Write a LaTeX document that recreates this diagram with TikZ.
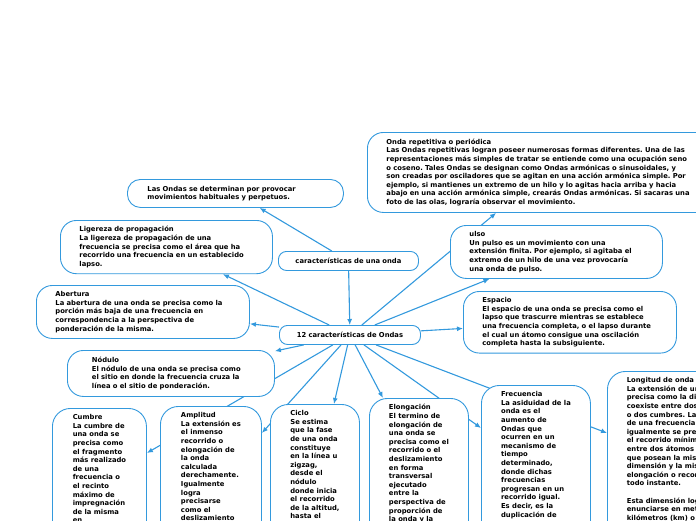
\documentclass[tikz,border=0pt]{standalone}
\usepackage{fontspec}
\setmainfont{DejaVu Sans}
\usetikzlibrary{arrows.meta, backgrounds}
\definecolor{mapblue}{RGB}{51,153,221}
\frenchspacing

\begin{document}
\begin{tikzpicture}[x=1pt, y=-1pt,
    card/.style={draw=mapblue, fill=white, line width=0.9pt, rounded corners=16pt,
        align=left, anchor=north west, inner xsep=19pt, inner ysep=6pt,
        font=\fontsize{6.8}{8.6}\selectfont\bfseries},
    pill/.style={card, align=center, inner xsep=5pt, inner ysep=3pt, rounded corners=8pt, minimum height=19pt},
    tallcard/.style={card, inner xsep=0pt, rounded corners=18pt, text depth=150pt},
    link/.style={draw=mapblue, line width=1.1pt, -{Latex[length=6pt, width=5pt]}}]
    \useasboundingbox (0,0) rectangle (696,520);
    \clip (0,0) rectangle (696,520);

    \node[pill, text width=130pt] (cara) at (278,251) {características de una onda};
    \node[pill, text width=131pt] (hub) at (279,325) {12 características de Ondas};

    \node[card, text width=316pt, minimum height=80pt] (onda) at (367,132) {Onda repetitiva o periódica\\
        Las Ondas repetitivas logran poseer numerosas formas diferentes. Una de las\\
        representaciones más simples de tratar se entiende como una ocupación seno\\
        o coseno. Tales Ondas se designan como Ondas armónicas o sinusoidales, y\\
        son creadas por osciladores que se agitan en una acción armónica simple. Por\\
        ejemplo, si mantienes un extremo de un hilo y lo agitas hacia arriba y hacia\\
        abajo en una acción armónica simple, crearás Ondas armónicas. Si sacaras una\\
        foto de las olas, lograría observar el movimiento.};
    \node[card, text width=176pt, inner xsep=20pt, rounded corners=13pt, minimum height=28pt] (ondas) at (127,179) {Las Ondas se determinan por provocar\\
        movimientos habituales y perpetuos.};
    \node[card, text width=174pt, minimum height=53pt] (lig) at (60,220) {Ligereza de propagación\\
        La ligereza de propagación de una\\
        frecuencia se precisa como el área que ha\\
        recorrido una frecuencia en un establecido\\
        lapso.};
    \node[card, text width=175pt, minimum height=53pt] (abert) at (36,285) {Abertura\\
        La abertura de una onda se precisa como la\\
        porción más baja de una frecuencia en\\
        correspondencia a la perspectiva de\\
        ponderación de la misma.};
    \node[card, text width=174pt, minimum height=53pt] (ulso) at (450,225) {ulso\\
        Un pulso es un movimiento con una\\
        extensión finita. Por ejemplo, si agitaba el\\
        extremo de un hilo de una vez provocaría\\
        una onda de pulso.};
    \node[card, text width=175pt, minimum height=61pt] (esp) at (463,291) {Espacio\\
        El espacio de una onda se precisa como el\\
        lapso que trascurre mientras se establece\\
        una frecuencia completa, o el lapso durante\\
        el cual un átomo consigue una oscilación\\
        completa hasta la subsiguiente.};
    \node[card, text width=158pt, inner xsep=24.5pt, minimum height=46pt] (nod) at (67,350) {Nódulo\\
        El nódulo de una onda se precisa como\\
        el sitio en donde la frecuencia cruza la\\
        línea o el sitio de ponderación.};

    \node[tallcard, minimum width=94pt] (cumbre) at (52,408) {Cumbre\\ La cumbre de\\ una onda se\\ precisa como\\
        el fragmento\\ más realizado\\ de una\\ frecuencia o\\ el recinto\\ máximo de\\ impregnación\\ de la misma\\ en};
    \node[tallcard, minimum width=101pt] (ampl) at (160,406) {Amplitud\\ La extensión es\\ el inmenso\\ recorrido o\\
        elongación de\\ la onda\\ calculada\\ derechamente.\\ Igualmente\\ logra\\ precisarse\\ como el\\ deslizamiento};
    \node[tallcard, minimum width=89pt] (ciclo) at (270,404) {Ciclo\\ Se estima\\ que la fase\\ de una onda\\ constituye\\
        en la línea u\\ zigzag,\\ desde el\\ nódulo\\ donde inicia\\ el recorrido\\ de la altitud,\\ hasta el};
    \node[tallcard, minimum width=99pt] (elong) at (369,398) {Elongación\\ El termino de\\ elongación de\\ una onda se\\
        precisa como el\\ recorrido o el\\ deslizamiento\\ en forma\\ transversal\\ ejecutado\\ entre la\\
        perspectiva de\\ proporción de\\ la onda y la};
    \node[tallcard, minimum width=109pt] (frec) at (481,385) {Frecuencia\\ La asiduidad de la\\ onda es el\\ aumento de\\
        Ondas que\\ ocurren en un\\ mecanismo de\\ tiempo\\ determinado,\\ donde dichas\\ frecuencias\\
        progresan en un\\ recorrido igual.\\ Es decir, es la\\ duplicación de};
    \node[tallcard, minimum width=136pt] (longi) at (607,371) {Longitud de onda\\ La extensión de una\\
        precisa como la distancia\\ coexiste entre dos\\ o dos cumbres. La\\ de una frecuencia\\
        igualmente se precisa\\ el recorrido mínimo\\ entre dos átomos\\ que posean la misma\\
        dimensión y la misma\\ elongación o recorrido\\ todo instante.\\[8.6pt] Esta dimensión logra\\
        enunciarse en metros\\ kilómetros (km) o};

    \begin{pgfonlayer}{background}
        \draw[link] (cara) -- (ondas);
        \draw[link] (cara) -- (hub);
        \draw[link] (hub) -- (onda);
        \draw[link] (hub) -- (lig);
        \draw[link] (hub) -- (abert);
        \draw[link] (hub) -- (ulso);
        \draw[link] (hub) -- (esp);
        \draw[link] (hub) -- (nod);
        \draw[link] (hub) -- ([yshift=-45pt]cumbre.north east);
        \draw[link] (hub) -- ([yshift=-27pt]ampl.north east);
        \draw[link] (hub) -- ([xshift=19pt]ciclo.north);
        \draw[link] (hub) -- ([xshift=-36pt]elong.north);
        \draw[link] (hub) -- ([yshift=-43pt]frec.north west);
        \draw[link] (hub) -- ([yshift=-62pt]longi.north west);
    \end{pgfonlayer}
\end{tikzpicture}
\end{document}
